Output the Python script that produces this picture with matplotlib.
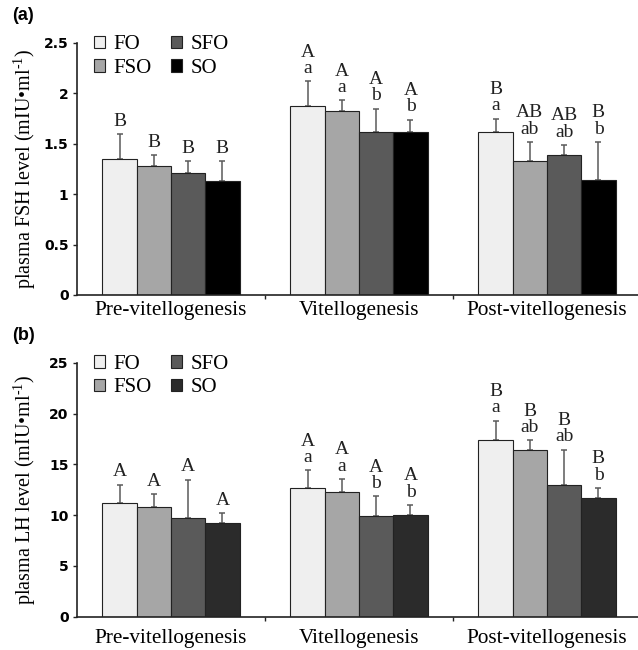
import matplotlib
matplotlib.use('Agg')
import matplotlib.pyplot as plt
import numpy as np
from matplotlib.patches import Patch

stages = ['Pre-vitellogenesis', 'Vitellogenesis', 'Post-vitellogenesis']
groups = ['FO', 'FSO', 'SFO', 'SO']

# plasma FSH (panel a), one list per diet, values per stage
fsh_fo = [1.35, 1.875, 1.62]
fsh_fso = [1.28, 1.825, 1.33]
fsh_sfo = [1.21, 1.62, 1.39]
fsh_so = [1.13, 1.62, 1.14]
fsh_err_fo = [0.25, 0.245, 0.13]
fsh_err_fso = [0.11, 0.105, 0.19]
fsh_err_sfo = [0.12, 0.23, 0.10]
fsh_err_so = [0.20, 0.12, 0.38]
fsh_letters = [['B', 'A\na', 'B\na'],
               ['B', 'A\na', 'AB\nab'],
               ['B', 'A\nb', 'AB\nab'],
               ['B', 'A\nb', 'B\nb']]

# plasma LH (panel b)
lh_fo = [11.2, 12.67, 17.35]
lh_fso = [10.8, 12.24, 16.36]
lh_sfo = [9.75, 9.94, 12.93]
lh_so = [9.2, 10.0, 11.65]
lh_err_fo = [1.8, 1.73, 1.95]
lh_err_fso = [1.3, 1.32, 1.01]
lh_err_sfo = [3.75, 1.91, 3.52]
lh_err_so = [1.0, 1.0, 1.02]
lh_letters = [['A', 'A\na', 'B\na'],
              ['A', 'A\na', 'B\nab'],
              ['A', 'A\nb', 'B\nab'],
              ['A', 'A\nb', 'B\nb']]

plt.rcParams['mathtext.fontset'] = 'custom'
plt.rcParams['mathtext.rm'] = 'Liberation Serif'
serif = 'Liberation Serif'

fig = plt.figure(figsize=(6.38, 6.5), dpi=100)
W = 638.0
H = 650.0


def panel(rect, means, errs, letters, colors, ymax, ystep, ylabel, tag, xpad):
    ax = fig.add_axes(rect)
    x = np.arange(len(stages))
    w = 0.1824
    for i in range(4):
        xs = x + (i - 1.5) * w
        ax.bar(xs, means[i], w, color=colors[i], edgecolor='#222222', linewidth=0.8, zorder=2)
        ax.errorbar(xs, means[i], yerr=[np.zeros(3), errs[i]], fmt='none',
                    ecolor='#5a5a5a', elinewidth=1.1, capsize=2.5, capthick=1.1, zorder=1)
        for j in range(3):
            ax.annotate(letters[i][j], (xs[j], means[i][j] + errs[i][j]), xytext=(0, 3),
                        textcoords='offset points', ha='center', va='bottom',
                        fontsize=14, family=serif, linespacing=0.95, color='#222222')
    ax.set_xlim(-0.5, 2.484)
    ax.set_ylim(0, ymax)
    ax.set_yticks(np.arange(0, ymax + ystep / 2, ystep))
    ax.yaxis.set_major_formatter(matplotlib.ticker.FormatStrFormatter('%g'))
    for lab in ax.get_yticklabels():
        lab.set_fontweight('bold')
        lab.set_fontsize(10)
        lab.set_family('DejaVu Sans')
    ax.tick_params(axis='y', length=3, width=1, pad=3, color='#222222')
    ax.set_xticks(x)
    ax.set_xticklabels(stages, fontsize=15.3, family=serif)
    ax.tick_params(axis='x', length=0, pad=xpad)
    ax.set_xticks([0.5, 1.5], minor=True)
    ax.tick_params(axis='x', which='minor', length=3, width=1, color='#222222')
    for s in ['top', 'right']:
        ax.spines[s].set_visible(False)
    for s in ['left', 'bottom']:
        ax.spines[s].set_linewidth(1.2)
        ax.spines[s].set_color('#222222')
    ax.set_ylabel(ylabel, fontsize=14.5, family=serif)
    ax.yaxis.set_label_coords(-0.07, 0.5)
    handles = [Patch(facecolor=colors[i], edgecolor='#222222', linewidth=0.8, label=groups[i])
               for i in range(4)]
    ax.legend(handles=handles, ncol=2, loc='upper left', bbox_to_anchor=(0.03, 1.03),
              frameon=False, prop={'family': serif, 'size': 15}, handlelength=0.55,
              handleheight=0.55, handletextpad=0.4, columnspacing=0.9, labelspacing=0.2,
              borderpad=0, borderaxespad=0)
    fig.text(12 / W, rect[1] + rect[3] + 27 / H, tag, fontsize=13, fontweight='bold',
             family='Liberation Sans', va='center')
    return ax


colors_a = ['#efefef', '#a6a6a6', '#5a5a5a', '#000000']
colors_b = ['#efefef', '#a6a6a6', '#5a5a5a', '#2b2b2b']

left = 77 / W
width = (W - 77) / W
panel([left, 1 - 295 / H, width, 252 / H],
      [fsh_fo, fsh_fso, fsh_sfo, fsh_so],
      [fsh_err_fo, fsh_err_fso, fsh_err_sfo, fsh_err_so],
      fsh_letters, colors_a, 2.5, 0.5,
      'plasma FSH level (mIU•ml$^{\\text{-}1}$)', '(a)', 4)
panel([left, 1 - 616.7 / H, width, 254 / H],
      [lh_fo, lh_fso, lh_sfo, lh_so],
      [lh_err_fo, lh_err_fso, lh_err_sfo, lh_err_so],
      lh_letters, colors_b, 25, 5,
      'plasma LH level (mIU•ml$^{\\text{-}1}$)', '(b)', 8.5)

fig.savefig('out.png', dpi=100)
